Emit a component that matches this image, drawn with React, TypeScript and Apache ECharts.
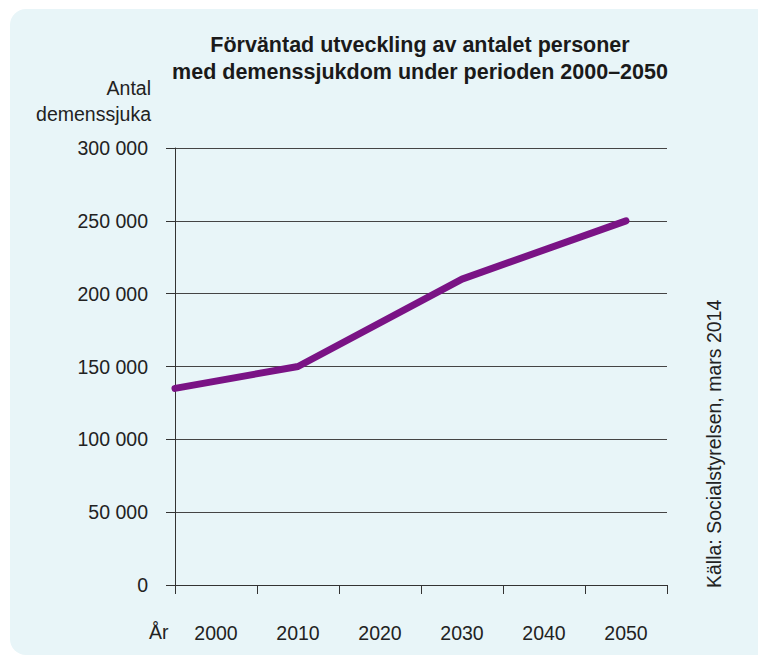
import React, { useEffect, useRef } from "react";
import * as echarts from "echarts";

// Year categories shown on the x axis
const years = ["2000", "2010", "2020", "2030", "2040", "2050"];
// Line points: [position on the year scale, number of people with dementia]
const lineYears = [1995, 2010, 2030, 2050];
const lineValues = [135000, 150000, 210000, 250000];
const titleLines = ["Förväntad utveckling av antalet personer", "med demenssjukdom under perioden 2000–2050"];
const yAxisTitle = ["Antal", "demenssjuka"];
const xAxisTitle = "År";
const sourceText = "Källa: Socialstyrelsen, mars 2014";

const FONT = "'Liberation Sans', Arial, Helvetica, sans-serif";
const FS = 19.5;

export default function App() {
  const ref = useRef<HTMLDivElement>(null);

  useEffect(() => {
    if (!ref.current) return;
    const chart = echarts.init(ref.current, null, { renderer: "svg" });
    const fmt = (v: number) => String(v).replace(/\B(?=(\d{3})+(?!\d))/g, " ");

    chart.setOption({
      animation: false,
      backgroundColor: "#ffffff",
      textStyle: { fontFamily: FONT },
      graphic: [
        {
          type: "rect",
          left: 10,
          top: 9,
          shape: { width: 760, height: 646, r: [16, 0, 0, 16] },
          style: { fill: "#e8f5f8" },
          z: -10,
        },
        {
          type: "text",
          x: 420,
          y: 58.5,
          style: {
            text: titleLines.join("\n"),
            fontFamily: FONT,
            fontSize: 21.5,
            fontWeight: "bold",
            fill: "#1a1a1a",
            align: "center",
            verticalAlign: "middle",
            lineHeight: 27,
          },
        },
        {
          type: "text",
          x: 151,
          y: 101,
          style: {
            text: yAxisTitle.join("\n"),
            fontFamily: FONT,
            fontSize: FS,
            fill: "#222",
            align: "right",
            verticalAlign: "middle",
            lineHeight: 26,
          },
        },
        {
          type: "text",
          x: 149,
          y: 632,
          style: { text: xAxisTitle, fontFamily: FONT, fontSize: FS, fill: "#222", align: "left", verticalAlign: "middle" },
        },
        {
          type: "text",
          x: 714,
          y: 588,
          rotation: Math.PI / 2,
          style: { text: sourceText, fontFamily: FONT, fontSize: FS, fill: "#222", align: "left", verticalAlign: "middle" },
        },
      ],
      grid: { left: 175, right: 91, top: 148, bottom: 72, containLabel: false },
      xAxis: [
        {
          type: "category",
          data: years,
          boundaryGap: true,
          axisLine: { show: true, lineStyle: { color: "#333", width: 1 } },
          axisTick: { show: true, interval: 0, length: 9, inside: false, lineStyle: { color: "#333" } },
          axisLabel: { fontSize: FS, color: "#222", margin: 38, fontFamily: FONT },
          splitLine: { show: false },
        },
        {
          type: "value",
          min: 1995,
          max: 2055,
          show: false,
        },
      ],
      yAxis: {
        type: "value",
        min: 0,
        max: 300000,
        interval: 50000,
        axisLine: { show: true, lineStyle: { color: "#333", width: 1 } },
        axisTick: { show: true, length: 9, lineStyle: { color: "#333" } },
        axisLabel: { fontSize: FS, color: "#222", margin: 27, fontFamily: FONT, formatter: fmt },
        splitLine: { show: true, lineStyle: { color: "#444", width: 1 } },
      },
      series: [
        {
          type: "line",
          xAxisIndex: 1,
          data: lineYears.map((y, i) => [y, lineValues[i]]),
          symbol: "none",
          lineStyle: { color: "#7a1385", width: 7, cap: "round", join: "round" },
        },
      ],
    });

    return () => chart.dispose();
  }, []);

  return <div ref={ref} style={{ width: 758, height: 657, position: "absolute", left: 0, top: 0 }} />;
}
